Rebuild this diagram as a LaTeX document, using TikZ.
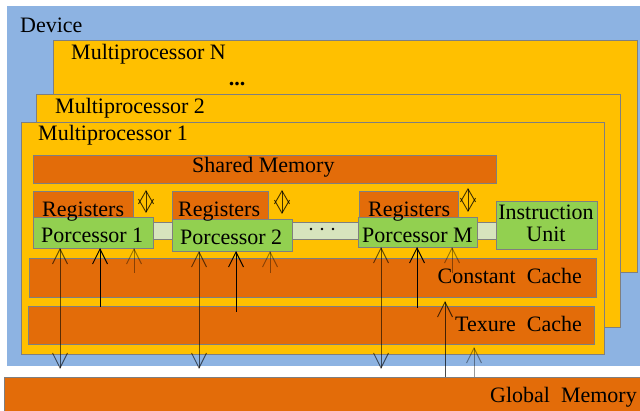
\documentclass[tikz,border=0pt]{standalone}
\usepackage{fontspec}
\setmainfont{Liberation Serif}
\usepackage{xcolor}
\usetikzlibrary{arrows.meta}
\definecolor{devblue}{HTML}{8DB3E2}
\definecolor{mpyellow}{HTML}{FFC000}
\definecolor{memorange}{HTML}{E36C09}
\definecolor{procgreen}{HTML}{92D050}
\definecolor{buslight}{HTML}{D7E4BD}
\definecolor{edgegrey}{HTML}{7F7F7F}
\tikzset{blk/.style={draw=edgegrey,line width=0.8pt,anchor=north west,inner sep=0pt,outer sep=0pt}}
\tikzset{mp/.style={blk,fill=mpyellow}}
\tikzset{mem/.style={blk,fill=memorange}}
\tikzset{proc/.style={blk,fill=procgreen}}
\tikzset{txt/.style={inner sep=0pt,anchor=base west}}
\tikzset{barb/.style={line width=0.9pt,arrows={-Straight Barb[length=15pt,width=15pt]}}}
\tikzset{dblbarb/.style={line width=0.9pt,arrows={Straight Barb[length=15pt,width=15pt]-Straight Barb[length=15pt,width=15pt]}}}
\tikzset{xchg/.style={line width=0.9pt,draw opacity=0.75,arrows={Straight Barb[length=13pt,width=15pt]-Straight Barb[length=13pt,width=15pt]}}}

\begin{document}
\begin{tikzpicture}[x=1pt,y=-1pt,font=\fontsize{22}{24}\selectfont]
        \useasboundingbox (0,0) rectangle (640,411);
        % boxes
        \node[blk,draw=none,fill=devblue,minimum width=640,minimum height=360] (dev) at (7,6) {};
        \node[mp,minimum width=584,minimum height=232] (mpn) at (53,40) {};
        \node[mp,minimum width=584,minimum height=233] (mp2) at (36,94) {};
        \node[mp,minimum width=583,minimum height=232] (mp1) at (21,122) {};
        \node[mem,minimum width=463,minimum height=28] (shm) at (33,155) {};
        \node[mem,minimum width=100,minimum height=30] (r1) at (33,191) {};
        \node[mem,minimum width=96,minimum height=30] (r2) at (172,191) {};
        \node[mem,minimum width=99,minimum height=30] (rm) at (359,191) {};
        \node[blk,fill=buslight,minimum width=346,minimum height=17] (bus) at (150,222) {};
        \node[proc,minimum width=120,minimum height=31] (p1) at (33,217) {};
        \node[proc,minimum width=120,minimum height=32] (p2) at (172,219) {};
        \node[proc,minimum width=119,minimum height=30] (pm) at (358,217) {};
        \node[proc,minimum width=101,minimum height=48] (iu) at (496,201) {};
        \node[mem,minimum width=567,minimum height=39] (cc) at (29,258) {};
        \node[mem,minimum width=566,minimum height=38] (tc) at (28,306) {};
        \node[mem,minimum width=640,minimum height=40] (gm) at (4,377) {};

        % labels
        \node[txt] (devl) at (20,33) {Device};
        \node[txt] (mpnl) at (71,60) {Multiprocessor N};
        \node[inner sep=0pt] (dots) at (237,84) {\textbf{...}};
        \node[txt] (mp2l) at (55,114) {Multiprocessor 2};
        \node[txt] (mp1l) at (38,141) {Multiprocessor 1};
        \node[txt] (shml) at (192,173) {Shared Memory};
        \node[txt] (r1l) at (42,217) {Registers};
        \node[txt] (r2l) at (178,217) {Registers};
        \node[txt] (rml) at (368,217) {Registers};
        \node[txt] (p1l) at (41,243) {Porcessor 1};
        \node[txt] (p2l) at (180,245) {Porcessor 2};
        \node[txt] (pml) at (362,243) {Porcessor M};
        \node[inner sep=0pt,anchor=base] (iul1) at (546,220) {Instruction};
        \node[inner sep=0pt,anchor=base] (iul2) at (546,242) {Unit};
        \node[inner sep=0pt,anchor=base east] (ccl) at (582,284) {Constant~~Cache};
        \node[inner sep=0pt,anchor=base east] (tcl) at (582,332) {Texure~~Cache};
        \node[inner sep=0pt,anchor=base east] (gml) at (637,403) {Global~~Memory};

        % bus dots
        \fill (311,229) circle (1.3pt) (322,229) circle (1.3pt) (333,229) circle (1.3pt);

        % end points
        \coordinate (g1) at (60,369);
        \coordinate (g2) at (199,369);
        \coordinate (g3) at (381,369);
        \coordinate (t1) at (100,307);
        \coordinate (t2) at (236,312);
        \coordinate (t3) at (417,308);
        \coordinate (c1) at (134,273);
        \coordinate (c2) at (270,273);
        \coordinate (c3) at (452,273);
        \coordinate (k1) at (445,301);
        \coordinate (k2) at (474,347);
        \coordinate (x1a) at (146,190);
        \coordinate (x1b) at (146,213);
        \coordinate (x2a) at (282,190);
        \coordinate (x2b) at (282,214);
        \coordinate (x3a) at (468,188);
        \coordinate (x3b) at (468,212);

        % connectors
        \draw [dblbarb,draw opacity=0.6] (p1.south -| g1) to (g1);
        \draw [dblbarb,draw opacity=0.6] (p2.south -| g2) to (g2);
        \draw [dblbarb,draw opacity=0.6] (pm.south -| g3) to (g3);
        \draw [barb] (t1) to (p1.south -| t1);
        \draw [barb] (t2) to (p2.south -| t2);
        \draw [barb] (t3) to (pm.south -| t3);
        \draw [barb,draw opacity=0.4] (c1) to (p1.south -| c1);
        \draw [barb,draw opacity=0.4] (c2) to (p2.south -| c2);
        \draw [barb,draw opacity=0.4] (c3) to (pm.south -| c3);
        \draw [barb,draw opacity=0.7] (gm.north -| k1) to (k1);
        \draw [barb,draw opacity=0.4] (gm.north -| k2) to (k2);
        \draw [xchg] (x1a) to (x1b);
        \draw [xchg] (x2a) to (x2b);
        \draw [xchg] (x3a) to (x3b);
\end{tikzpicture}
\end{document}
